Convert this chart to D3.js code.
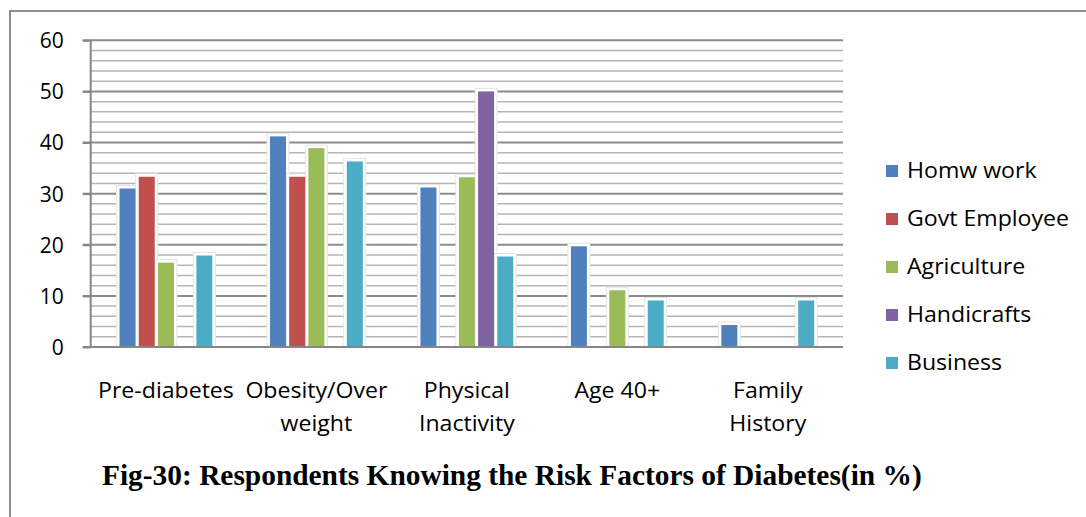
<!DOCTYPE html>
<html>
<head>
<meta charset="utf-8">
<script src="https://cdn.jsdelivr.net/npm/d3@7"></script>
<style>
  html, body { margin: 0; padding: 0; background: #fff; }
  svg { display: block; }
</style>
</head>
<body>
<script>
// Risk factors known by respondents, by occupation (percent)
const categories = ["Pre-diabetes", "Obesity/Over weight", "Physical Inactivity", "Age 40+", "Family History"];
const categoryLines = [["Pre-diabetes"], ["Obesity/Over", "weight"], ["Physical", "Inactivity"], ["Age 40+"], ["Family", "History"]];
const seriesNames = ["Homw work", "Govt Employee", "Agriculture", "Handicrafts", "Business"];
const homwWork     = [31.0, 41.2, 31.2, 19.7, 4.3];
const govtEmployee = [33.3, 33.3, 0, 0, 0];
const agriculture  = [16.5, 38.9, 33.2, 11.1, 0];
const handicrafts  = [0, 0, 50.0, 0, 0];
const business     = [17.9, 36.3, 17.7, 9.1, 9.1];
const seriesValues = [homwWork, govtEmployee, agriculture, handicrafts, business];
const yTicks = [0, 10, 20, 30, 40, 50, 60];
const colors = ["#4F81BD", "#C0504D", "#9BBB59", "#8064A2", "#4BACC6"];
const title = "Fig-30: Respondents Knowing the Risk Factors of Diabetes(in %)";

const W = 1086, H = 517;
const plot = { left: 90.7, right: 843, top: 40.3, bottom: 347 };
const font = "'Open Sans', 'Noto Sans', sans-serif";

const svg = d3.select("body").append("svg").attr("width", W).attr("height", H);

// Outer frame (left and top edges only visible)
svg.append("path")
  .attr("d", `M10,${H} L10,11 L${W},11`)
  .attr("fill", "none").attr("stroke", "#8e8e8e").attr("stroke-width", 2);

const y = d3.scaleLinear().domain([0, 60]).range([plot.bottom, plot.top]);
const x0 = d3.scaleBand().domain(categories).range([plot.left, plot.right]).paddingInner(0).paddingOuter(0);
const x1 = d3.scaleBand().domain(seriesNames).range([0, x0.bandwidth()]).paddingInner(0.1667).paddingOuter(1.5);

// Minor and major gridlines
const minor = d3.range(2, 60, 2).filter(v => v % 10 !== 0);
svg.append("g").selectAll("line").data(minor).join("line")
  .attr("x1", plot.left).attr("x2", plot.right)
  .attr("y1", d => y(d)).attr("y2", d => y(d))
  .attr("stroke", "#b5b5b5").attr("stroke-width", 1.5);
svg.append("g").selectAll("line").data(yTicks.filter(v => v > 0)).join("line")
  .attr("x1", plot.left - 8).attr("x2", plot.right)
  .attr("y1", d => y(d)).attr("y2", d => y(d))
  .attr("stroke", "#8c8c8c").attr("stroke-width", 2);

// Y axis
const yAxis = d3.axisLeft(y).tickValues(yTicks).tickSize(8).tickPadding(19).tickFormat(d3.format("d"));
const gy = svg.append("g").attr("transform", `translate(${plot.left},0)`).call(yAxis);
gy.select(".domain").attr("stroke", "#868686").attr("stroke-width", 2).attr("d", `M0,${plot.top}V${plot.bottom}`);
gy.selectAll(".tick line").attr("stroke", "#868686").attr("stroke-width", 2);
gy.selectAll(".tick text").attr("font-family", font).attr("font-size", 21).attr("fill", "#000").attr("dy", "0.35em");

// Bars, each with a white halo behind it
const groups = svg.append("g").selectAll("g").data(categories).join("g")
  .attr("transform", d => `translate(${x0(d)},0)`);
const barData = (c, ci) => seriesNames.map((s, si) => ({ s, si, v: seriesValues[si][ci] })).filter(d => d.v > 0);
groups.each(function (c, ci) {
  const g = d3.select(this);
  const data = barData(c, ci);
  g.selectAll("rect.halo").data(data).join("rect").attr("class", "halo")
    .attr("x", d => x1(d.s) - 3).attr("width", x1.bandwidth() + 6)
    .attr("y", d => y(d.v) - 3).attr("height", d => y(0) - y(d.v) + 3)
    .attr("fill", "#fff").attr("stroke", "#e4e4e4").attr("stroke-width", 1);
  g.selectAll("rect.bar").data(data).join("rect").attr("class", "bar")
    .attr("x", d => x1(d.s)).attr("width", x1.bandwidth())
    .attr("y", d => y(d.v)).attr("height", d => y(0) - y(d.v))
    .attr("fill", d => colors[d.si]);
});

// X axis baseline
svg.append("line")
  .attr("x1", plot.left - 8).attr("x2", plot.right)
  .attr("y1", y(0)).attr("y2", y(0))
  .attr("stroke", "#868686").attr("stroke-width", 2);

// Category labels (wrapped on two lines)
const xl = svg.append("g").selectAll("g").data(categories).join("g")
  .attr("transform", d => `translate(${x0(d) + x0.bandwidth() / 2},398) scale(1.1,1)`);
xl.each(function (c, ci) {
  d3.select(this).selectAll("text").data(categoryLines[ci]).join("text")
    .attr("x", 0).attr("y", (d, i) => i * 33)
    .attr("text-anchor", "middle")
    .attr("font-family", font).attr("font-size", 21).attr("fill", "#000")
    .text(d => d);
});

// Legend
const legend = svg.append("g").selectAll("g").data(seriesNames).join("g")
  .attr("transform", (d, i) => `translate(886,${171 + i * 48})`);
legend.append("rect").attr("x", 0).attr("y", -6).attr("width", 12).attr("height", 12)
  .attr("fill", (d, i) => colors[i]);
legend.append("text").attr("transform", "translate(21,0) scale(1.1,1)")
  .attr("dy", "0.35em")
  .attr("font-family", font).attr("font-size", 21).attr("fill", "#000")
  .text(d => d);

// Caption
svg.append("text")
  .attr("x", 102).attr("y", 485)
  .attr("font-family", "'Liberation Serif', 'Times New Roman', serif")
  .attr("font-weight", "bold").attr("font-size", 29.4).attr("fill", "#000")
  .text(title);
</script>
</body>
</html>
